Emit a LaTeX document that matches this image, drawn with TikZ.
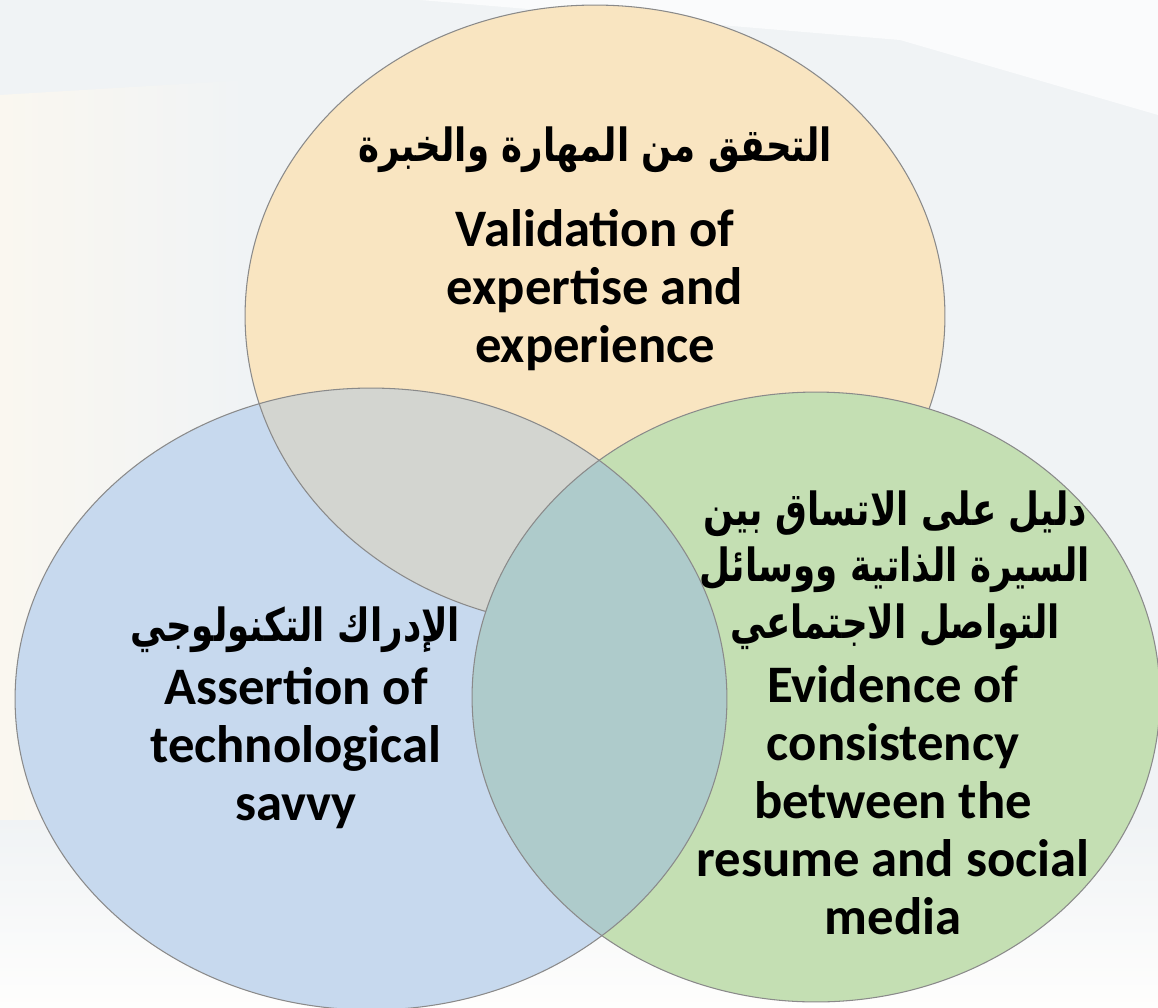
\documentclass[tikz,border=0pt]{standalone}
\usepackage{fontspec}
\setmainfont{Carlito}
\newfontfamily\arabicfont[Script=Arabic,FakeStretch=0.78]{DejaVu Sans}
\TeXXeTstate=1
\usetikzlibrary{positioning}

\definecolor{bgcol}{HTML}{F0F3F5}
\definecolor{creamcol}{HTML}{FAF7F0}
\definecolor{orangefill}{HTML}{F9E5C1}
\definecolor{greenfill}{HTML}{C4DFB3}
\definecolor{bluefill}{HTML}{C7D9EE}
\definecolor{grayfill}{HTML}{D3D5D0}
\definecolor{tealfill}{HTML}{AECBCB}
\definecolor{vennline}{HTML}{8A8A8A}

\tikzset{
  venn/.style={draw=vennline,line width=0.6pt},
  entext/.style={font=\bfseries\fontsize{30}{33}\selectfont,align=center,inner sep=0pt},
  artext/.style={font=\arabicfont\bfseries\fontsize{26}{32}\selectfont,align=center,inner sep=0pt},
}

\begin{document}
\begin{tikzpicture}[x=0.02cm,y=-0.02cm]
  \useasboundingbox (0,0) rectangle (1158,1007);
  % faded background
  \fill[bgcol] (0,0) rectangle (1158,1007);
  \fill[white!70!bgcol] (420,0) -- (1158,0) -- (1158,115) -- (900,40) -- cycle;
  \shade[left color=creamcol,right color=bgcol] (0,95) -- (250,80) -- (250,1007) -- (0,1007) -- cycle;
  \shade[top color=bgcol,bottom color=white!85!creamcol] (0,820) rectangle (1158,1007);

  \coordinate (O) at (595,316);
  \coordinate (B) at (371,699);
  \coordinate (G) at (816,697);

  % the three sets
  \fill[orangefill] (O) ellipse [x radius=7cm,y radius=6.22cm];
  \draw[venn] (O) ellipse [x radius=7cm,y radius=6.22cm];
  \fill[greenfill] (G) ellipse [x radius=6.88cm,y radius=6.1cm];
  \draw[venn] (G) ellipse [x radius=6.88cm,y radius=6.1cm];
  \fill[bluefill] (B) ellipse [x radius=7.12cm,y radius=6.22cm];
  \begin{scope}
    \clip (B) ellipse [x radius=7.12cm,y radius=6.22cm];
    \fill[grayfill] (O) ellipse [x radius=7cm,y radius=6.22cm];
    \draw[venn] (O) ellipse [x radius=7cm,y radius=6.22cm];
    \fill[tealfill] (G) ellipse [x radius=6.88cm,y radius=6.1cm];
    \draw[venn] (G) ellipse [x radius=6.88cm,y radius=6.1cm];
  \end{scope}
  \draw[venn] (B) ellipse [x radius=7.12cm,y radius=6.22cm];

  % labels
  \node[artext] (top-ar) at (595,150) {\beginR التحقق من المهارة والخبرة\endR};
  \node[entext] (top-en) at (595,290) {Validation of\\expertise and\\experience};
  \node[artext] (left-ar) at (295,630) {\beginR الإدراك التكنولوجي\endR};
  \node[entext] (left-en) at (296,748) {Assertion of\\technological\\savvy};
  \node[artext] (right-ar) at (895,570) {\beginR دليل على الاتساق بين\endR\\\beginR السيرة الذاتية ووسائل\endR\\\beginR التواصل الاجتماعي\endR};
  \node[entext] (right-en) at (893,800) {Evidence of\\consistency\\between the\\resume and social\\media};
\end{tikzpicture}
\end{document}
